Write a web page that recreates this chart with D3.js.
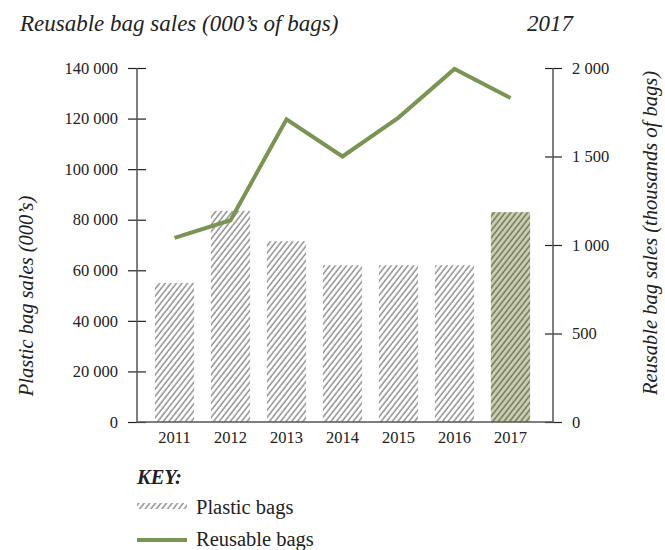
<!DOCTYPE html>
<html>
<head>
<meta charset="utf-8">
<script src="https://cdn.jsdelivr.net/npm/d3@7"></script>
<style>
  body { margin: 0; background: #fff; }
  svg text { font-family: "Liberation Serif", "DejaVu Serif", serif; fill: #222; }
  .tick text { font-size: 16.5px; }
  .ttl { font-style: italic; font-size: 23px; }
  .axis-label { font-style: italic; font-size: 20.5px; }
  .key { font-size: 20.5px; }
</style>
</head>
<body>
<div id="chart"></div>
<script>
// data
var years = ["2011", "2012", "2013", "2014", "2015", "2016", "2017"];
var plastic = [55000, 83500, 71500, 62000, 62000, 62000, 83000];   // 000's of bags
var reusable = [1040, 1140, 1710, 1500, 1720, 1995, 1830];          // thousands of bags
var leftTicks = [0, 20000, 40000, 60000, 80000, 100000, 120000, 140000];
var rightTicks = [0, 500, 1000, 1500, 2000];
var highlightYear = "2017";

var W = 665, H = 550;
var plot = {left: 137, right: 553, top: 68, bottom: 422};

var fmt = d3.formatLocale({decimal: ".", thousands: "\u2009", grouping: [3], currency: ["", ""]}).format(",");
function spaced(v) { return fmt(v).replace(/\u2009/g, " "); }

var svg = d3.select("#chart").append("svg")
  .attr("width", W)
  .attr("height", H);

var defs = svg.append("defs");
function hatch(id, bg, stroke) {
  var p = defs.append("pattern")
    .attr("id", id)
    .attr("patternUnits", "userSpaceOnUse")
    .attr("width", 4.4).attr("height", 10)
    .attr("patternTransform", "rotate(38)");
  p.append("rect").attr("width", 4.4).attr("height", 10).attr("fill", bg);
  p.append("line")
    .attr("x1", 1).attr("x2", 1).attr("y1", 0).attr("y2", 10)
    .attr("stroke", stroke).attr("stroke-width", 1.4);
}
hatch("hatch-grey", "#fff", "#8a8a8a");
hatch("hatch-green", "#c9cfae", "#6c725c");

// scales
var x = d3.scaleBand()
  .domain(years)
  .range([146.5, 538.5])
  .paddingInner(0.3)
  .paddingOuter(0.15);

var yL = d3.scaleLinear().domain([0, 140000]).range([plot.bottom, plot.top]);
var yR = d3.scaleLinear().domain([0, 2000]).range([plot.bottom, plot.top]);

// title
svg.append("text").attr("class", "ttl")
  .attr("x", 20).attr("y", 31)
  .text("Reusable bag sales (000\u2019s of bags)");
svg.append("text").attr("class", "ttl")
  .attr("x", 527).attr("y", 31)
  .text("2017");

// bars
svg.append("g")
  .selectAll("rect")
  .data(years)
  .enter()
  .append("rect")
    .attr("x", function(d) { return x(d); })
    .attr("width", x.bandwidth())
    .attr("y", function(d, i) { return yL(plastic[i]); })
    .attr("height", function(d, i) { return yL(0) - yL(plastic[i]); })
    .attr("fill", function(d) { return d === highlightYear ? "url(#hatch-green)" : "url(#hatch-grey)"; });

// left axis
var gL = svg.append("g")
  .attr("transform", "translate(" + plot.left + ",0)")
  .call(d3.axisLeft(yL).tickValues(leftTicks).tickFormat(spaced).tickSize(9).tickPadding(10));
gL.selectAll(".tick line").attr("x1", 9).attr("stroke", "#222").attr("stroke-width", 1.2);
gL.select(".domain").remove();
gL.selectAll(".tick text").attr("font-family", null).attr("font-size", null);

// right axis
var gR = svg.append("g")
  .attr("transform", "translate(" + plot.right + ",0)")
  .call(d3.axisRight(yR).tickValues(rightTicks).tickFormat(spaced).tickSize(9).tickPadding(10));
gR.selectAll(".tick line").attr("x1", -8).attr("stroke", "#222").attr("stroke-width", 1.2);
gR.select(".domain").remove();
gR.selectAll(".tick text").attr("font-family", null).attr("font-size", null);

// x axis labels
var gX = svg.append("g")
  .attr("transform", "translate(0," + plot.bottom + ")")
  .call(d3.axisBottom(x).tickSize(0).tickPadding(9));
gX.select(".domain").remove();
gX.selectAll(".tick text").attr("font-family", null).attr("font-size", null);

// frame lines: left, bottom, right axis lines
svg.append("path")
  .attr("d", "M" + plot.left + "," + plot.top + "V" + plot.bottom + "H" + plot.right + "V" + plot.top)
  .attr("fill", "none")
  .attr("stroke", "#555")
  .attr("stroke-width", 1.5);

// reusable line
var line = d3.line()
  .x(function(d, i) { return x(years[i]) + x.bandwidth() / 2; })
  .y(function(d) { return yR(d); });
svg.append("path")
  .datum(reusable)
  .attr("d", line)
  .attr("fill", "none")
  .attr("stroke", "#7a9454")
  .attr("stroke-width", 4)
  .attr("stroke-linejoin", "miter");

// axis titles
svg.append("text").attr("class", "axis-label")
  .attr("text-anchor", "middle")
  .attr("transform", "translate(33,296) rotate(-90)")
  .text("Plastic bag sales (000\u2019s)");
svg.append("text").attr("class", "axis-label")
  .attr("text-anchor", "middle")
  .attr("transform", "translate(657,233) rotate(-90)")
  .text("Reusable bag sales (thousands of bags)");

// key
var key = svg.append("g").attr("class", "key");
key.append("text")
  .attr("x", 137).attr("y", 484)
  .attr("font-weight", "bold").attr("font-style", "italic")
  .text("KEY:");
key.append("rect")
  .attr("x", 137).attr("y", 503).attr("width", 50).attr("height", 6)
  .attr("fill", "url(#hatch-grey)");
key.append("text").attr("x", 196).attr("y", 514).text("Plastic bags");
key.append("line")
  .attr("x1", 137).attr("x2", 187).attr("y1", 540).attr("y2", 540)
  .attr("stroke", "#7a9454").attr("stroke-width", 4);
key.append("text").attr("x", 196).attr("y", 546).text("Reusable bags");
</script>
</body>
</html>
